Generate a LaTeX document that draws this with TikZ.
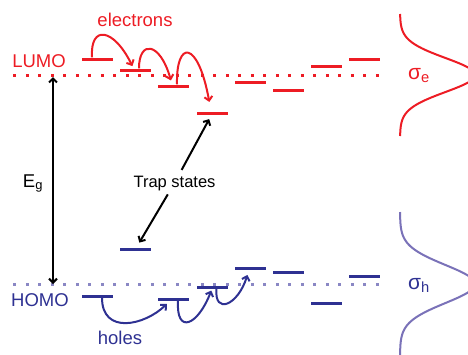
\documentclass[tikz,border=0pt]{standalone}
\usepackage{fontspec}
\setmainfont{Liberation Sans}
\usetikzlibrary{arrows.meta}
\definecolor{lumored}{HTML}{ED1C24}
\definecolor{homoblue}{HTML}{2E3192}
\definecolor{homodots}{HTML}{8A87C4}
\definecolor{dosblue}{HTML}{7A72B8}

\begin{document}
\begin{tikzpicture}[
      x=1pt, y=-1pt,
      every node/.style={font=\fontsize{18.5}{20}\selectfont, inner sep=2pt},
      elev/.style={fill=lumored, minimum width=31pt, minimum height=3pt, inner sep=0pt},
      hlev/.style={fill=homoblue, minimum width=31pt, minimum height=3pt, inner sep=0pt},
      edots/.style={lumored, line width=3pt, dash pattern=on 3pt off 9.5pt},
      hdots/.style={homodots, line width=3pt, dash pattern=on 3pt off 9.5pt},
      hop/.style={-{Straight Barb[length=4pt,width=8pt]}, line width=2pt},
      dos/.style={line width=2pt},
    ]
    \useasboundingbox (0,0) rectangle (468,354);

    % density of states
    \begin{scope}
      \clip (0,0) rectangle (468,354);
      \draw[dos, lumored] plot[domain=-61:61, samples=90, smooth] ({400+75*exp(-(\x*\x)/578)}, {75+\x});
      \draw[dos, dosblue] plot[domain=-72:72, samples=90, smooth] ({400+75*exp(-(\x*\x)/722)}, {284+\x});
    \end{scope}

    \coordinate (lumoL) at (13.3,75);
    \coordinate (lumoR) at (381,75);
    \coordinate (homoL) at (13.3,284);
    \coordinate (homoR) at (381,284);
    \draw[edots] (lumoL) -- (lumoR);
    \draw[hdots] (homoL) -- (homoR);

    \node[elev] (e1) at (97,59) {};
    \node[elev] (e2) at (135.5,70) {};
    \node[elev] (e3) at (173.5,86) {};
    \node[elev] (e4) at (212.5,113) {};
    \node[elev] (e5) at (250,82) {};
    \node[elev] (e6) at (288,90) {};
    \node[elev] (e7) at (326.5,66) {};
    \node[elev] (e8) at (364.5,59) {};

    \node[hlev] (h1) at (97,296) {};
    \node[hlev] (ht) at (135.5,249) {};
    \node[hlev] (h2) at (173.5,299) {};
    \node[hlev] (h3) at (212.5,287) {};
    \node[hlev] (h4) at (250,268) {};
    \node[hlev] (h5) at (288.5,272) {};
    \node[hlev] (h6) at (326.5,303) {};
    \node[hlev] (h7) at (364.5,276) {};

    \node[lumored, anchor=base] (lumo) at (39,67) {LUMO};
    \node[lumored, anchor=base] (elec) at (135,26) {electrons};
    \node[homoblue, anchor=base] (homo) at (40,306) {HOMO};
    \node[homoblue, anchor=base] (holes) at (120,344) {holes};
    \node[anchor=base, font=\fontsize{16.5}{18}\selectfont] (trap) at (174.5,187) {Trap states};
    \node[anchor=base] (eg) at (33,187) {E\textsubscript{g}};
    \node[lumored, anchor=base, font=\fontsize{21}{24}\selectfont] (sige) at (419,79) {σ\textsubscript{e}};
    \node[homoblue, anchor=base, font=\fontsize{21}{24}\selectfont] (sigh) at (419,289) {σ\textsubscript{h}};

    \coordinate (gtop) at (53,77);
    \coordinate (gbot) at (53,284);
    \draw[{Straight Barb[length=4pt,width=8pt]}-{Straight Barb[length=4pt,width=8pt]}, line width=2pt] (gtop) -- (gbot);

    \draw[hop, shorten <=4pt, shorten >=5pt] (trap) -- (e4);
    \draw[hop, shorten <=2pt, shorten >=5.5pt] (trap) -- (ht);

    \draw[hop, lumored, shorten >=2.5pt] ([xshift=-5pt]e1.north) .. controls +(-2,-32.6) and +(-20,-40.6) .. ([xshift=-2pt]e2.north);
    \draw[hop, lumored, shorten >=4pt] ([xshift=3.5pt]e2.north) .. controls +(0,-28.6) and +(-12,-42.6) .. ([xshift=-1.5pt]e3.north);
    \draw[hop, lumored, shorten >=9.5pt] ([xshift=3.5pt]e3.north) .. controls +(-1,-44.6) and +(-13,-71.6) .. ([xshift=-1.5pt]e4.north);

    \draw[hop, homoblue, shorten >=4.5pt] ([xshift=5pt]h1.south) .. controls +(0,37.6) and +(-25,24.6) .. ([xshift=-3.5pt]h2.south);
    \draw[hop, homoblue, shorten >=2pt] ([xshift=4.5pt]h2.south) .. controls +(-2,34.6) and +(-14,36.6) .. ([xshift=-0.5pt]h3.south);
    \draw[hop, homoblue, shorten >=5.5pt] ([xshift=4pt]h3.south) .. controls +(-2.5,26.6) and +(-11,35.6) .. ([xshift=-1pt]h4.south);
  \end{tikzpicture}
\end{document}
